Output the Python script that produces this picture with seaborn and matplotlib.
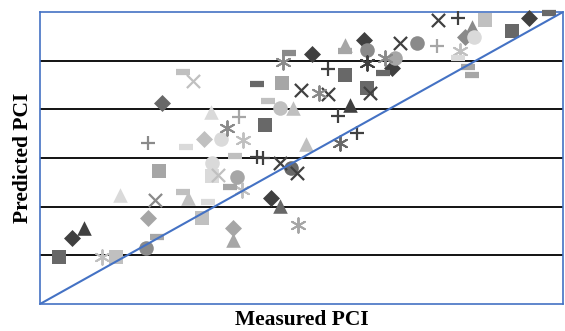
import matplotlib
matplotlib.use("Agg")
import matplotlib.pyplot as plt
import seaborn as sns
import pandas as pd

# ---- data (Measured PCI, Predicted PCI) grouped by marker and shade ----
diamond_x = [43.7, 66.5, 71.2, 77.2, 80.4, 96.1, 54.0, 88.8, 52.4, 62.1, 58.8]
diamond_y = [53.6, 61.8, 91.4, 94.2, 88.5, 98.8, 81.3, 94.9, 57.7, 55.6, 73.9]
diamond_g = ["k", "k", "k", "k", "k", "k", "md", "m", "ml", "ml", "l"]

square_x = [42.2, 65.8, 75.0, 77.5, 94.1, 53.7, 67.8, 48.7, 58.6, 91.1, 59.7]
square_y = [49.7, 76.8, 87.1, 84.4, 96.1, 67.3, 85.4, 49.7, 57.7, 98.4, 66.3]
square_g = ["md", "md", "md", "md", "md", "ml", "ml", "l", "l", "l", "vl"]

tri_x = [45.0, 75.6, 67.5, 89.6, 62.1, 75.0, 57.0, 69.0, 70.5, 49.2, 59.6]
tri_y = [55.6, 80.9, 60.1, 96.9, 53.2, 93.2, 61.8, 80.3, 72.9, 62.4, 79.5]
tri_g = ["k", "k", "md", "m", "ml", "ml", "l", "l", "l", "vl", "vl"]

circ_x = [68.8, 52.2, 77.5, 83.2, 62.6, 80.7, 67.5, 59.7, 60.8, 89.8]
circ_y = [67.9, 51.5, 92.2, 93.6, 66.1, 90.5, 80.3, 69.0, 73.9, 94.9]
circ_g = ["md", "m", "m", "m", "ml", "ml", "l", "vl", "vl", "vl"]

cross_x = [69.9, 73.0, 77.9, 81.3, 85.7, 67.5, 69.5, 53.2, 57.6, 60.4]
cross_y = [84.0, 83.2, 83.4, 93.6, 98.4, 69.0, 66.9, 61.4, 85.8, 66.5]
cross_g = ["k", "k", "k", "k", "k", "k", "k", "m", "l", "l"]

plus_x = [64.9, 65.6, 73.0, 74.2, 76.4, 88.0, 52.4, 62.8, 85.5]
plus_y = [70.2, 70.0, 88.3, 78.6, 75.1, 98.8, 73.1, 78.4, 93.0]
plus_g = ["k", "k", "k", "k", "k", "k", "m", "ml", "ml"]

ast_x = [74.4, 77.5, 61.5, 67.9, 72.0, 79.6, 69.6, 63.3, 63.2, 47.1, 88.2]
ast_y = [73.1, 89.5, 76.2, 89.7, 83.4, 90.5, 56.2, 73.7, 63.4, 49.7, 92.0]
ast_g = ["md", "k", "m", "m", "m", "m", "ml", "l", "l", "l", "l"]

dash_x = [64.9, 79.3, 98.4, 68.6, 53.4, 89.1, 89.6, 75.0, 61.8, 56.4, 66.2, 62.4, 56.4, 56.7, 59.3, 88.0]
dash_y = [85.2, 87.5, 99.8, 91.6, 53.8, 88.7, 87.1, 92.0, 64.0, 87.7, 81.7, 70.4, 63.0, 72.3, 61.0, 90.5]
dash_g = ["md", "md", "md", "m", "ml", "ml", "ml", "ml", "ml", "l", "l", "l", "l", "vl", "vl", "vl"]

axis_min, axis_max = 40, 100
grid_levels = [50, 60, 70, 80, 90]
x_label = "Measured PCI"
y_label = "Predicted PCI"

# ---- style ----
shade = {"k": "#404040", "md": "#686868", "m": "#8a8a8a", "ml": "#a6a6a6",
         "l": "#c0c0c0", "vl": "#dadada"}
blue = "#4472C4"

sns.set_theme(style="white")
plt.rcParams["font.family"] = ["Liberation Serif", "DejaVu Serif"]

fig = plt.figure(figsize=(5.65, 3.31), dpi=100)
ax = fig.add_axes([40 / 565, 1 - 304 / 331, 523 / 565, 292 / 331])

for lvl in grid_levels:
    ax.axhline(lvl, color="black", lw=1.3, zorder=1)

groups = [
    (diamond_x, diamond_y, diamond_g, dict(marker="D", s=75, linewidth=0)),
    (square_x, square_y, square_g, dict(marker="s", s=100, linewidth=0)),
    (tri_x, tri_y, tri_g, dict(marker="^", s=110, linewidth=0)),
    (circ_x, circ_y, circ_g, dict(marker="o", s=110, linewidth=0)),
    (cross_x, cross_y, cross_g, dict(marker="x", s=90, linewidth=1.6)),
    (plus_x, plus_y, plus_g, dict(marker="+", s=110, linewidth=1.6)),
    (ast_x, ast_y, ast_g, dict(marker=(6, 2, 0), s=110, linewidth=1.4)),
    (dash_x, dash_y, dash_g, dict(marker="_", s=110, linewidth=4.5)),
]

for xs, ys, gs, kw in groups:
    df = pd.DataFrame({"x": xs, "y": ys, "g": gs})
    for g, sub in df.groupby("g", sort=False):
        c = shade[g]
        sns.scatterplot(data=sub, x="x", y="y", color=c, edgecolor=c, ax=ax,
                        zorder=3, clip_on=False, legend=False, **kw)

sns.lineplot(x=[axis_min, axis_max], y=[axis_min, axis_max], color=blue,
             lw=1.5, ax=ax, zorder=4)

ax.set_xlim(axis_min, axis_max)
ax.set_ylim(axis_min, axis_max)
ax.set_xticks([])
ax.set_yticks([])
for sp in ax.spines.values():
    sp.set_color(blue)
    sp.set_linewidth(1.2)

ax.set_xlabel(x_label, fontsize=15.5, fontweight="bold", color="black")
ax.set_ylabel(y_label, fontsize=15.5, fontweight="bold", color="black")
ax.xaxis.set_label_coords(0.5, -0.022, transform=ax.transAxes)
ax.yaxis.set_label_coords(-0.014, 0.5, transform=ax.transAxes)
ax.xaxis.label.set_va("top")
ax.yaxis.label.set_va("bottom")

fig.savefig("out.png", dpi=100, facecolor="white")
